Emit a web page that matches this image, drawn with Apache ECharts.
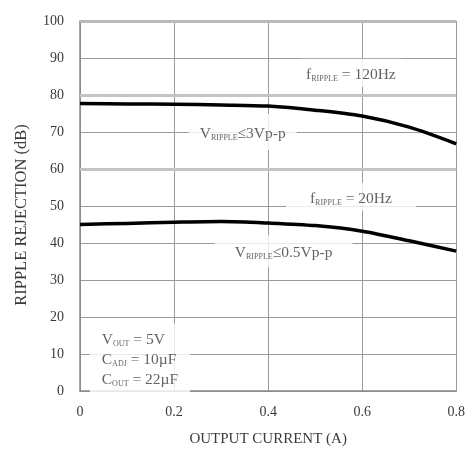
<!DOCTYPE html>
<html>
<head>
<meta charset="utf-8">
<script src="https://cdn.jsdelivr.net/npm/echarts@6/dist/echarts.min.js"></script>
<style>html,body{margin:0;padding:0;background:#fff}#c{width:468px;height:452px}</style>
</head>
<body>
<div id="c"></div>
<script>
const currentA = [0, 0.1, 0.2, 0.3, 0.4, 0.5, 0.6, 0.7, 0.8];
const rejection120Hz = [77.7, 77.6, 77.5, 77.3, 77.0, 75.9, 74.3, 71.3, 66.8];
const rejection20Hz = [45.0, 45.3, 45.6, 45.8, 45.4, 44.7, 43.2, 40.6, 37.8];
const xTicks = ['0', '0.2', '0.4', '0.6', '0.8'];
const yTicks = ['0','10','20','30','40','50','60','70','80','90','100'];
const heavyGridValues = [60, 80];
const annotX = [0.576, 0.346, 0.576, 0.433];
const annotY = [86, 70, 52.5, 37.8];
const annotText = [
  '{n|f}{s|RIPPLE}{n| = 120Hz}',
  '{n|V}{s|RIPPLE}{n|≤3Vp-p}',
  '{n|f}{s|RIPPLE}{n| = 20Hz}',
  '{n|V}{s|RIPPLE}{n|≤0.5Vp-p}'
];
const annotPad = [[4, 6], [8, 11], [4, 24], [6, 20]];
const condX = 0.008;
const condY = 8.8;
const condText = '{n|V}{s|OUT}{n| = 5V}\n{n|C}{s|ADJ}{n| = 10µF}\n{n|C}{s|OUT}{n| = 22µF}';

const FONT = '"Liberation Serif", "DejaVu Serif", serif';
const TXT = '#3a3a3a';
const rich = {
  n: { fontSize: 15.5, fontFamily: FONT, color: TXT, verticalAlign: 'bottom', lineHeight: 20 },
  s: { fontSize: 8, fontFamily: FONT, color: TXT, verticalAlign: 'bottom', lineHeight: 15 }
};

const chart = echarts.init(document.getElementById('c'), null, { renderer: 'canvas' });

const annotSeries = annotX.map((x, i) => ({
  type: 'scatter',
  data: [[x, annotY[i]]],
  symbolSize: 0,
  silent: true,
  z: 3,
  label: {
    show: true, position: 'inside', formatter: annotText[i], rich: rich,
    backgroundColor: '#fff', padding: annotPad[i]
  }
}));

chart.setOption({
  animation: false,
  backgroundColor: '#fff',
  grid: { left: 80, right: 9, top: 21, bottom: 58 },
  xAxis: {
    type: 'value', min: 0, max: 0.8, interval: 0.2,
    name: 'OUTPUT CURRENT (A)', nameLocation: 'middle', nameGap: 41,
    nameTextStyle: { fontFamily: FONT, fontSize: 15, color: TXT },
    axisLine: { show: true, lineStyle: { color: '#888', width: 1.5 } },
    axisTick: { show: false },
    axisLabel: { margin: 14, fontFamily: FONT, fontSize: 14, color: TXT,
      formatter: (v) => xTicks[Math.round(v / 0.2)] },
    splitLine: { show: true, lineStyle: { color: '#9a9a9a', width: 1 } }
  },
  yAxis: {
    type: 'value', min: 0, max: 100, interval: 10,
    name: 'RIPPLE REJECTION (dB)', nameLocation: 'middle', nameGap: 50, nameRotate: 90,
    nameTextStyle: { fontFamily: FONT, fontSize: 16.5, color: TXT, padding: [0, 18, 0, 0] },
    axisLine: { show: true, lineStyle: { color: '#888', width: 1.5 } },
    axisTick: { show: false },
    axisLabel: { margin: 16, fontFamily: FONT, fontSize: 14, color: TXT,
      formatter: (v) => yTicks[Math.round(v / 10)] },
    splitLine: { show: true, lineStyle: { color: '#9a9a9a', width: 1 } }
  },
  series: [
    {
      type: 'line', data: [], silent: true, z: 1,
      markLine: {
        silent: true, symbol: 'none', label: { show: false },
        lineStyle: { type: 'solid', color: '#c4c4c4', width: 3 },
        data: heavyGridValues.map(v => ({ yAxis: v })).concat([{ yAxis: 100, lineStyle: { color: '#b8b8b8', width: 3 } }])
      }
    },
    {
      type: 'line', name: '120Hz', data: currentA.map((x, i) => [x, rejection120Hz[i]]),
      smooth: 0.3, symbol: 'none', z: 5,
      lineStyle: { color: '#000', width: 3.5 }
    },
    {
      type: 'line', name: '20Hz', data: currentA.map((x, i) => [x, rejection20Hz[i]]),
      smooth: 0.3, symbol: 'none', z: 5,
      lineStyle: { color: '#000', width: 3.5 }
    },
    ...annotSeries,
    {
      type: 'scatter', data: [[condX, condY]], symbolSize: 0, silent: true, z: 3,
      label: {
        show: true, position: 'right', distance: 6, formatter: condText, rich: rich,
        backgroundColor: '#fff', padding: [4, 12, 6, 12], align: 'left'
      }
    }
  ]
});
</script>
</body>
</html>
